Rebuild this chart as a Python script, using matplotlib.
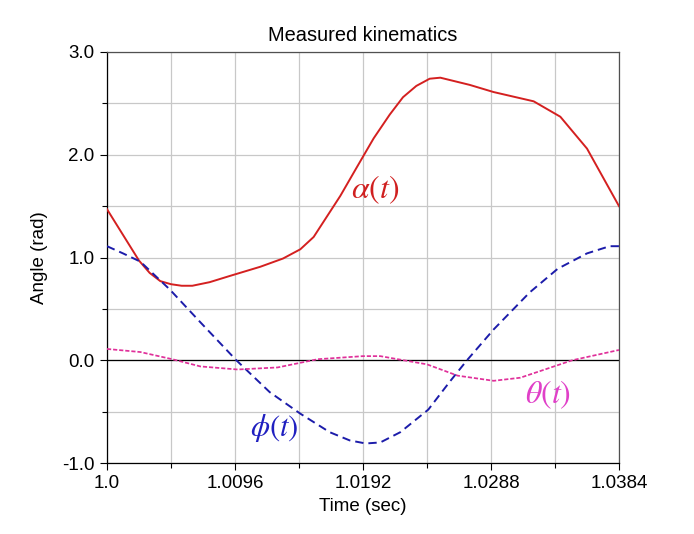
import matplotlib
matplotlib.use("Agg")
import matplotlib.pyplot as plt
from matplotlib.ticker import FixedLocator, FixedFormatter

plt.rcParams['font.family'] = ['Liberation Sans', 'DejaVu Sans']
plt.rcParams['lines.scale_dashes'] = False

# ---- data ----
alpha_t = [1.0, 1.0012, 1.0024, 1.0032, 1.0040, 1.0048, 1.0056, 1.0064, 1.0077,
           1.0092, 1.0115, 1.0132, 1.0145, 1.0155, 1.0165, 1.0175, 1.0187, 1.0200,
           1.0212, 1.0222, 1.0232, 1.0242, 1.0250, 1.0272, 1.0290, 1.0320, 1.0340,
           1.0360, 1.0384]
alpha_v = [1.47, 1.22, 0.97, 0.85, 0.77, 0.74, 0.725, 0.725, 0.76,
           0.82, 0.91, 0.99, 1.08, 1.20, 1.40, 1.60, 1.87, 2.16,
           2.39, 2.56, 2.67, 2.74, 2.75, 2.68, 2.61, 2.52, 2.37,
           2.06, 1.50]

phi_t = [1.0, 1.0012, 1.0025, 1.0047, 1.0070, 1.0097, 1.0122, 1.0145, 1.0167,
         1.0182, 1.0194, 1.0205, 1.0220, 1.0241, 1.0257, 1.0270, 1.0290, 1.0317,
         1.0338, 1.0360, 1.0377, 1.0384]
phi_v = [1.11, 1.04, 0.96, 0.69, 0.37, 0.0, -0.31, -0.52, -0.70,
         -0.78, -0.81, -0.80, -0.70, -0.48, -0.21, 0.0, 0.30, 0.66,
         0.89, 1.04, 1.11, 1.11]

theta_t = [1.0, 1.0025, 1.0049, 1.0070, 1.0098, 1.0128, 1.0158, 1.0192, 1.0205,
           1.0240, 1.0263, 1.0290, 1.0310, 1.0349, 1.0384]
theta_v = [0.11, 0.08, 0.01, -0.06, -0.09, -0.07, 0.01, 0.04, 0.04,
           -0.04, -0.15, -0.20, -0.17, 0.0, 0.10]

xticks = [1.0, 1.0096, 1.0192, 1.0288, 1.0384]
xtick_labels = ["1.0", "1.0096", "1.0192", "1.0288", "1.0384"]
xminor = [1.0048, 1.0144, 1.0240, 1.0336]
yticks = [-1.0, 0.0, 1.0, 2.0, 3.0]
ytick_labels = ["-1.0", "0.0", "1.0", "2.0", "3.0"]
yminor = [-0.5, 0.5, 1.5, 2.5]

# ---- figure ----
fig = plt.figure(figsize=(6.94, 5.34), dpi=100)
ax = fig.add_axes([107/694, 1-463/534, (619-107)/694, (463-52)/534])

ax.set_xlim(1.0, 1.0384)
ax.set_ylim(-1.0, 3.0)

ax.xaxis.set_major_locator(FixedLocator(xticks))
ax.xaxis.set_major_formatter(FixedFormatter(xtick_labels))
ax.xaxis.set_minor_locator(FixedLocator(xminor))
ax.yaxis.set_major_locator(FixedLocator(yticks))
ax.yaxis.set_major_formatter(FixedFormatter(ytick_labels))
ax.yaxis.set_minor_locator(FixedLocator(yminor))

ax.grid(True, which='both', color='#c8c8c8', lw=0.9)
ax.set_axisbelow(True)
ax.axhline(0.0, color='black', lw=0.9, zorder=1.5)

ax.tick_params(which='major', direction='out', length=5, width=0.8,
               labelsize=13.5, colors='black', pad=4)
ax.tick_params(which='minor', direction='out', length=3.5, width=0.8)

for s in ['left', 'bottom']:
    ax.spines[s].set_color('black')
    ax.spines[s].set_linewidth(0.9)
for s in ['top', 'right']:
    ax.spines[s].set_color('#505050')
    ax.spines[s].set_linewidth(0.9)

ax.plot(alpha_t, alpha_v, color='#d42020', lw=1.4, zorder=3)
ax.plot(phi_t, phi_v, color='#1c1caa', lw=1.4, dashes=(6, 3.6), zorder=3)
ax.plot(theta_t, theta_v, color='#e0309a', lw=1.25, dashes=(3, 1.4), zorder=3)

ax.text(1.0201, 1.66, r'$\alpha(t)$', color='#d02020', fontsize=23,
        math_fontfamily='stix', ha='center', va='center')
ax.text(1.01253, -0.655, r'$\phi(t)$', color='#2020c0', fontsize=22,
        math_fontfamily='stix', ha='center', va='center')
ax.text(1.03308, -0.34, r'$\theta(t)$', color='#e040c8', fontsize=23,
        math_fontfamily='stix', ha='center', va='center')

ax.set_title('Measured kinematics', fontsize=14.4, pad=8)
ax.set_xlabel('Time (sec)', fontsize=13.5, labelpad=4)
ax.set_ylabel('Angle (rad)', fontsize=13.5, labelpad=10)

fig.savefig('out.png', dpi=100)
